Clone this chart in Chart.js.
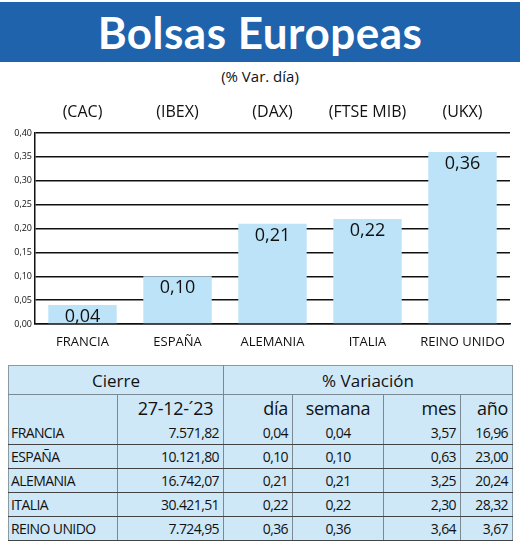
<!DOCTYPE html>
<html><head><meta charset="utf-8">
<script src="https://cdn.jsdelivr.net/npm/chart.js@4"></script>
<style>
body{margin:0;width:520px;height:550px;background:#fff;position:relative;font-family:"Liberation Sans Narrow","Open Sans",Arial,sans-serif;overflow:hidden}
#title{position:absolute;left:0;top:2px;width:520px;height:60px;background:#1f63ad;color:#fff;font:bold 44px Lato,"Open Sans",sans-serif;text-align:center;line-height:60px;letter-spacing:0.5px}
#sub{position:absolute;left:0;top:66px;width:520px;text-align:center;font-size:15px;color:#111}
#cw{position:absolute;left:0;top:90px;width:520px;height:260px}
table{position:absolute;left:8px;top:365px;width:504px;table-layout:fixed;border-collapse:collapse;background:#cfe8f8;border:1.5px solid #8a9aa5;font-size:14px;letter-spacing:-0.6px;color:#111;white-space:nowrap}
td{padding:0 4px;height:23px;text-align:right;overflow:hidden}
tr.h1 td{height:28px;font-size:17px;letter-spacing:0;text-align:center;border-bottom:1px solid #7a8a95}
tr.h2 td{height:26px;font-size:18px;letter-spacing:-0.3px}
td.l{text-align:left;padding-left:2px}
tr.d td{border-bottom:1px solid #444}
.vl{border-left:1px solid #7a8a95}
</style></head><body>
<div id="title">Bolsas Europeas</div>
<div id="sub">(% Var. día)</div>
<div id="cw"><canvas id="c" width="520" height="260"></canvas></div>
<table id="t"><colgroup><col style="width:109px"><col style="width:106px"><col style="width:69px"><col style="width:91px"><col style="width:77px"><col style="width:52px"></colgroup></table>
<script>
const categories=["FRANCIA","ESPAÑA","ALEMANIA","ITALIA","REINO UNIDO"];
const indices=["(CAC)","(IBEX)","(DAX)","(FTSE MIB)","(UKX)"];
const dayValues=[0.04,0.10,0.21,0.22,0.36];
const cierre=["7.571,82","10.121,80","16.742,07","30.421,51","7.724,95"];
const dia=["0,04","0,10","0,21","0,22","0,36"];
const semana=["0,04","0,10","0,21","0,22","0,36"];
const mes=["3,57","0,63","3,25","2,30","3,64"];
const anio=["16,96","23,00","20,24","28,32","3,67"];
const F='"Liberation Sans Narrow","Open Sans",Arial,sans-serif';
const fmt=v=>v.toFixed(2).replace('.',',');
const labelsPlugin={id:'lbl',afterDatasetsDraw(ch){
  const ctx=ch.ctx,meta=ch.getDatasetMeta(0);
  ctx.save();ctx.textAlign='center';ctx.fillStyle='#111';
  meta.data.forEach((b,i)=>{
    ctx.font='18px '+F;ctx.textBaseline='top';
    ctx.fillText(fmt(dayValues[i]),b.x,b.y+3);
    ctx.font='16px '+F;ctx.textBaseline='alphabetic';
    ctx.fillText(indices[i],b.x,27);
  });
  ctx.restore();}};
let t='<tr class="h1"><td colspan="2">Cierre</td><td colspan="4" class="vl">% Variación</td></tr>';
t+='<tr class="h2"><td></td><td class="vl" style="text-align:center;padding-left:14px">27-12-´23</td><td class="vl">día</td><td class="vl" style="text-align:center">semana</td><td class="vl">mes</td><td class="vl">año</td></tr>';
categories.forEach((c,i)=>{t+=`<tr class="d"><td class="l">${c}</td><td class="vl">${cierre[i]}</td><td class="vl">${dia[i]}</td><td class="vl" style="text-align:center">${semana[i]}</td><td class="vl">${mes[i]}</td><td class="vl">${anio[i]}</td></tr>`;});
document.getElementById('t').insertAdjacentHTML('beforeend',t);
new Chart(document.getElementById('c'),{type:'bar',
 data:{labels:categories,datasets:[{data:dayValues,backgroundColor:'#bde3f8',categoryPercentage:0.72,barPercentage:1}]},
 options:{responsive:false,animation:false,devicePixelRatio:1,
  layout:{padding:{top:43,right:10,left:0,bottom:0}},
  plugins:{legend:{display:false},tooltip:{enabled:false}},
  scales:{
   y:{min:0,max:0.4,ticks:{stepSize:0.05,callback:v=>fmt(v),color:'#111',font:{size:9,family:F},padding:3},
      grid:{color:'#111',lineWidth:1.5,drawTicks:false},border:{color:'#111',width:1.5},
      afterFit(s){s.width=35;}},
   x:{ticks:{color:'#111',font:{size:13,family:F},padding:2},
      grid:{display:false},border:{color:'#111',width:1.5},
      afterFit(s){s.height=26;}}
  }},plugins:[labelsPlugin]});
</script></body></html>
